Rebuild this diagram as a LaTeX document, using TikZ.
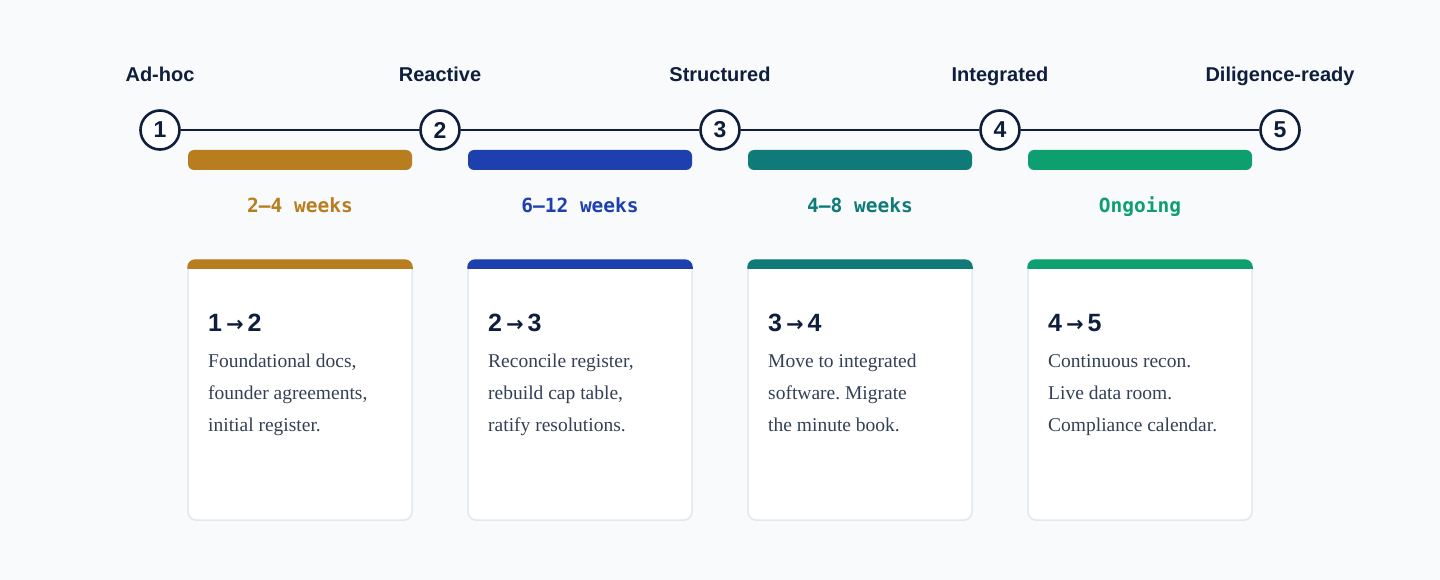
\documentclass[tikz,border=0pt]{standalone}
\usepackage{fontspec}
\setmainfont{Liberation Serif}
\newfontfamily\headfont{Liberation Sans}
\newfontfamily\durfont{DejaVu Sans Mono}
\newfontfamily\arrowfont{DejaVu Sans}
\usetikzlibrary{positioning}
\frenchspacing
\definecolor{navy}{HTML}{0F1E3C}
\definecolor{slate}{HTML}{334155}
\definecolor{pagebg}{HTML}{F8FAFC}
\definecolor{cardline}{HTML}{E2E8F0}
\definecolor{goldc}{HTML}{B87D1F}
\definecolor{bluec}{HTML}{1E40AF}
\definecolor{tealc}{HTML}{0F7A78}
\definecolor{greenc}{HTML}{0E9F6E}
\tikzset{
  stage/.style={circle, draw=navy, line width=2.6pt, fill=white, minimum size=39pt, inner sep=0pt,
    font=\headfont\bfseries\fontsize{23}{23}\selectfont, text=navy},
  stagename/.style={anchor=base, inner sep=0pt, font=\headfont\bfseries\fontsize{20}{20}\selectfont, text=navy},
  phasebar/.style={rounded corners=6pt, minimum width=224pt, minimum height=20pt, inner sep=0pt},
  duration/.style={anchor=base, inner sep=0pt, font=\durfont\bfseries\fontsize{19.5}{20}\selectfont},
  card/.style={draw=cardline, line width=1.5pt, fill=white, rounded corners=8pt,
    minimum width=224pt, minimum height=260pt, inner sep=0pt},
  cardtitle/.style={anchor=base west, inner sep=0pt, text=navy, font=\headfont\bfseries\fontsize{25}{25}\selectfont},
  cardtext/.style={anchor=north west, inner sep=0pt, align=left, text=slate, font=\fontsize{19.5}{32}\selectfont},
}
\newcommand{\tto}{{\kern4pt\arrowfont\bfseries\fontsize{21}{21}\selectfont →\kern4pt}}
\begin{document}
\begin{tikzpicture}[x=1pt, y=-1pt]
  \fill[pagebg] (0,0) rectangle (1440,580);
  \useasboundingbox (0,0) rectangle (1440,580);
  % stages on the line
  \foreach \i/\x/\name in {1/160/Ad-hoc, 2/440/Reactive, 3/720/Structured, 4/1000/Integrated, 5/1280/Diligence-ready}{
    \node[stagename] (l\i) at (\x,82) {\name};
    \node[stage] (s\i) at (\x,130) {\i};
  }
  \draw[navy, line width=2pt] (s1) -- (s2);
  \draw[navy, line width=2pt] (s2) -- (s3);
  \draw[navy, line width=2pt] (s3) -- (s4);
  \draw[navy, line width=2pt] (s4) -- (s5);
  % phases, bars and cards
  \foreach \i/\j/\x/\col/\dur/\txt in {
      1/2/300/goldc/2–4 weeks/{Foundational docs,\\founder agreements,\\initial register.},
      2/3/580/bluec/6–12 weeks/{Reconcile register,\\rebuild cap table,\\ratify resolutions.},
      3/4/860/tealc/4–8 weeks/{Move to integrated\\software. Migrate\\the minute book.},
      4/5/1140/greenc/Ongoing/{Continuous recon.\\Live data room.\\Compliance calendar.}}{
    \node[phasebar, fill=\col] (b\i) at (\x,160) {};
    \node[duration, text=\col] (d\i) at (\x,212) {\dur};
    \node[card] (c\i) at (\x,390) {};
    \begin{scope}
      \clip[rounded corners=8pt] (c\i.north west) rectangle (c\i.south east);
      \fill[\col] ([xshift=-1pt,yshift=1pt]c\i.north west) rectangle ([xshift=1pt,yshift=-10pt]c\i.north east);
    \end{scope}
    \node[cardtitle] (t\i) at (\x-92,331) {\i\tto\j};
    \node[cardtext] (p\i) at (\x-92,344.6) {\strut\txt};
  }
\end{tikzpicture}
\end{document}
